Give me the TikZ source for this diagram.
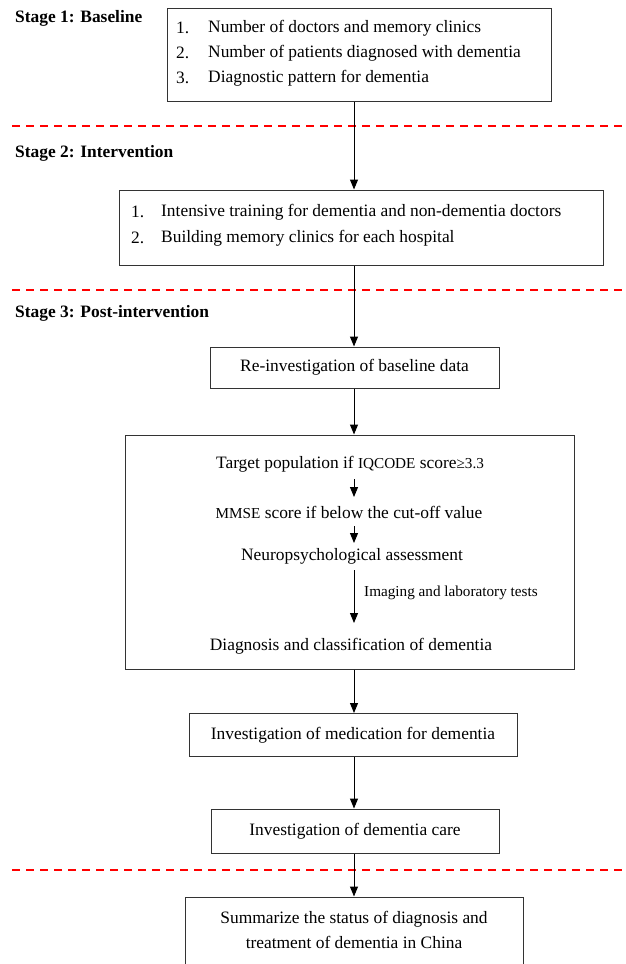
\documentclass[tikz,border=0pt]{standalone}
\usepackage{fontspec}
\setmainfont{Liberation Serif}
\usetikzlibrary{arrows.meta}
\newcommand\fmain{\fontsize{17.4}{25}\selectfont}
\newcommand\fsmall{\fontsize{15.2}{20}\selectfont}
\begin{document}
\begin{tikzpicture}[x=1pt,y=-1pt,
  box/.style={draw=black!80,line width=1pt,rectangle,inner sep=0pt,font=\fmain},
  txt/.style={inner sep=0pt,font=\fmain},
  stage/.style={inner sep=0pt,anchor=west,font=\fmain\bfseries},
  arr/.style={line width=1pt,-{Triangle[length=10pt,width=8pt]}},
  sep/.style={red,line width=2pt,dash pattern=on 8pt off 6pt}]
\useasboundingbox (0,0) rectangle (625,964);
\clip (0,0) rectangle (625,964);
\coordinate (ax) at (354,0);
\coordinate (sepL1) at (12,126); \coordinate (sepR1) at (625,126);
\coordinate (sepL2) at (12,290); \coordinate (sepR2) at (625,290);
\coordinate (sepL3) at (12,870); \coordinate (sepR3) at (625,870);

% stage labels
\node[stage] (s1) at (15,18) {Stage 1: Baseline};
\node[stage] (s2) at (15,153) {Stage 2: Intervention};
\node[stage] (s3) at (15,313) {Stage 3: Post-intervention};

% box 1
\node[box,minimum width=384pt,minimum height=93pt] (b1) at (359,54.5) {};
\node[txt,anchor=west] (b1a) at (176,28) {1.};
\node[txt,anchor=west] (b1at) at (208,28) {Number of doctors and memory clinics};
\node[txt,anchor=west] (b1b) at (176,53) {2.};
\node[txt,anchor=west] (b1bt) at (208,53) {Number of patients diagnosed with dementia};
\node[txt,anchor=west] (b1c) at (176,78) {3.};
\node[txt,anchor=west] (b1ct) at (208,78) {Diagnostic pattern for dementia};

% box 2
\node[box,minimum width=484pt,minimum height=75pt] (b2) at (361,227.5) {};
\node[txt,anchor=west] (b2a) at (131,212) {1.};
\node[txt,anchor=west] (b2at) at (161,212) {Intensive training for dementia and non-dementia doctors};
\node[txt,anchor=west] (b2b) at (131,238) {2.};
\node[txt,anchor=west] (b2bt) at (161,238) {Building memory clinics for each hospital};

% box 3
\node[box,minimum width=289pt,minimum height=41pt] (b3) at (354.5,367.5) {Re-investigation of baseline data};

% box 4
\node[box,minimum width=449pt,minimum height=234pt] (b4) at (349.5,552) {};
\node[txt] (t1) at (350,464) {Target population if {\fsmall IQCODE} score{\fsmall≥3.3}};
\node[txt] (t2) at (349,512) {{\fsmall MMSE} score if below the cut-off value};
\node[txt] (t3) at (352,556) {Neuropsychological assessment};
\node[txt] (t4) at (351,646) {Diagnosis and classification of dementia};
\node[inner sep=0pt,anchor=west,font=\fsmall] (lab) at (364,593) {Imaging and laboratory tests};

% box 5
\node[box,minimum width=328pt,minimum height=43pt] (b5) at (353,735) {Investigation of medication for dementia};
% box 6
\node[box,minimum width=288pt,minimum height=44pt] (b6) at (355,831) {Investigation of dementia care};
% box 7
\node[box,minimum width=338pt,minimum height=100pt] (b7) at (354,947) {};
\node[txt,align=center] (b7t) at (354,930) {Summarize the status of diagnosis and\\treatment of dementia in China};

% separators
\draw[sep] (sepL1) -- (sepR1);
\draw[sep] (sepL2) -- (sepR2);
\draw[sep] (sepL3) -- (sepR3);

% connectors
\draw[arr] (b1.south -| ax) -- (b2.north -| ax);
\draw[arr] (b2.south -| ax) -- (b3.north -| ax);
\draw[arr] (b3.south -| ax) -- (b4.north -| ax);
\draw[arr] ([yshift=-15pt]t1.center -| ax) -- ([yshift=15pt]t2.center -| ax);
\draw[arr] ([yshift=-14pt]t2.center -| ax) -- ([yshift=13pt]t3.center -| ax);
\draw[arr] ([yshift=-14pt]t3.center -| ax) -- ([yshift=23pt]t4.center -| ax);
\draw[arr] (b4.south -| ax) -- (b5.north -| ax);
\draw[arr] (b5.south -| ax) -- (b6.north -| ax);
\draw[arr] (b6.south -| ax) -- (b7.north -| ax);
\end{tikzpicture}
\end{document}
